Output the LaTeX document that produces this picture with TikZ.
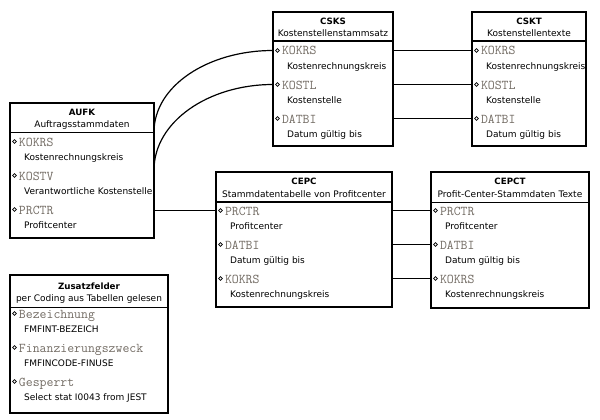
\documentclass[tikz,border=0pt]{standalone}
\usepackage{fontspec}
\setmainfont{DejaVu Sans}
\definecolor{fieldgray}{RGB}{115,108,100}
\tikzset{
  tabbox/.style={draw, line width=1.6pt, anchor=north west, inner sep=0pt, outer sep=0pt},
  sepline/.style={line width=1.4pt},
  ttl/.style={font=\fontsize{8.7}{10}\selectfont\bfseries, anchor=base, inner sep=0pt},
  subttl/.style={font=\fontsize{9}{10}\selectfont, anchor=base, inner sep=0pt},
  fname/.style={font=\ttfamily\fontsize{13.4}{14}\selectfont, text=fieldgray, anchor=base west, inner sep=0pt},
  fdesc/.style={font=\fontsize{9}{10}\selectfont, anchor=base west, inner sep=0pt},
  bulletdot/.style={circle, draw, fill=white, line width=0.75pt, minimum size=3.8pt, inner sep=0pt},
  link/.style={line width=1.2pt},
}
% #1 name, #2 x, #3 top, #4 width, #5 height, #6 separator offset, #7 title offset, #8 title, #9 subtitle
\newcommand\dbtab[9]{%
  \node[tabbox, minimum width=#4pt, minimum height=#5pt] (#1) at (#2,#3) {};
  \draw[sepline] ([shift={(0,#6)}]#1.north west) -- ([shift={(0,#6)}]#1.north east);
  \node[ttl] (#1-t) at ([shift={(0,#7)}]#1.north) {#8};
  \node[subttl] (#1-s) at ([shift={(0,{#7+12.5})}]#1.north) {#9};
}
% #1 table, #2 index, #3 field, #4 description
\newcommand\dbfld[4]{%
  \node[bulletdot] (#1-b#2) at ([shift={(4.5,{38.5+34*#2})}]#1.north west) {};
  \node[fname] (#1-n#2) at ([shift={(8.8,{43+34*#2})}]#1.north west) {#3};
  \node[fdesc] (#1-d#2) at ([shift={(14,{57.5+34*#2})}]#1.north west) {#4};
}
\begin{document}
\begin{tikzpicture}[x=1pt,y=-1pt]
\fill[white] (0,0) rectangle (600,420);
\useasboundingbox (0,0) rectangle (600,420);

% AUFK
\dbtab{aufk}{10}{103}{144}{135}{29.5}{12.5}{AUFK}{Auftragsstammdaten}
\dbfld{aufk}{0}{KOKRS}{Kostenrechnungskreis}
\dbfld{aufk}{1}{KOSTV}{Verantwortliche Kostenstelle}
\dbfld{aufk}{2}{PRCTR}{Profitcenter}

% CSKS
\dbtab{csks}{273}{12}{120}{134}{29}{12.5}{CSKS}{Kostenstellenstammsatz}
\dbfld{csks}{0}{KOKRS}{Kostenrechnungskreis}
\dbfld{csks}{1}{KOSTL}{Kostenstelle}
\dbfld{csks}{2}{DATBI}{Datum gültig bis}

% CSKT
\dbtab{cskt}{472}{12}{114}{134}{29}{12.5}{CSKT}{Kostenstellentexte}
\dbfld{cskt}{0}{KOKRS}{Kostenrechnungskreis}
\dbfld{cskt}{1}{KOSTL}{Kostenstelle}
\dbfld{cskt}{2}{DATBI}{Datum gültig bis}

% CEPC
\dbtab{cepc}{216}{172}{176}{135}{30}{12.5}{CEPC}{Stammdatentabelle von Profitcenter}
\dbfld{cepc}{0}{PRCTR}{Profitcenter}
\dbfld{cepc}{1}{DATBI}{Datum gültig bis}
\dbfld{cepc}{2}{KOKRS}{Kostenrechnungskreis}

% CEPCT
\dbtab{cepct}{431}{172}{158}{136}{30.5}{12.5}{CEPCT}{Profit-Center-Stammdaten Texte}
\dbfld{cepct}{0}{PRCTR}{Profitcenter}
\dbfld{cepct}{1}{DATBI}{Datum gültig bis}
\dbfld{cepct}{2}{KOKRS}{Kostenrechnungskreis}

% Zusatzfelder
\dbtab{zus}{10}{275}{158}{138}{32.5}{14}{Zusatzfelder}{per Coding aus Tabellen gelesen}
\dbfld{zus}{0}{Bezeichnung}{FMFINT-BEZEICH}
\dbfld{zus}{1}{Finanzierungszweck}{FMFINCODE-FINUSE}
\dbfld{zus}{2}{Gesperrt}{Select stat I0043 from JEST}

% connectors
\draw[link] ([yshift=-29pt]aufk.north east) .. controls +(0,-46) and +(-65,0) .. (csks.west |- csks-b0);
\draw[link] ([yshift=-67pt]aufk.north east) .. controls +(0,-48) and +(-65,0) .. (csks.west |- csks-b1);
\draw[link] (aufk.east |- cepc-b0) -- (cepc.west |- cepc-b0);

\foreach \i in {0,1,2}{
  \draw[link] (csks.east |- csks-b\i) -- (cskt.west |- cskt-b\i);
  \draw[link] (cepc.east |- cepc-b\i) -- (cepct.west |- cepct-b\i);
}
\end{tikzpicture}
\end{document}
